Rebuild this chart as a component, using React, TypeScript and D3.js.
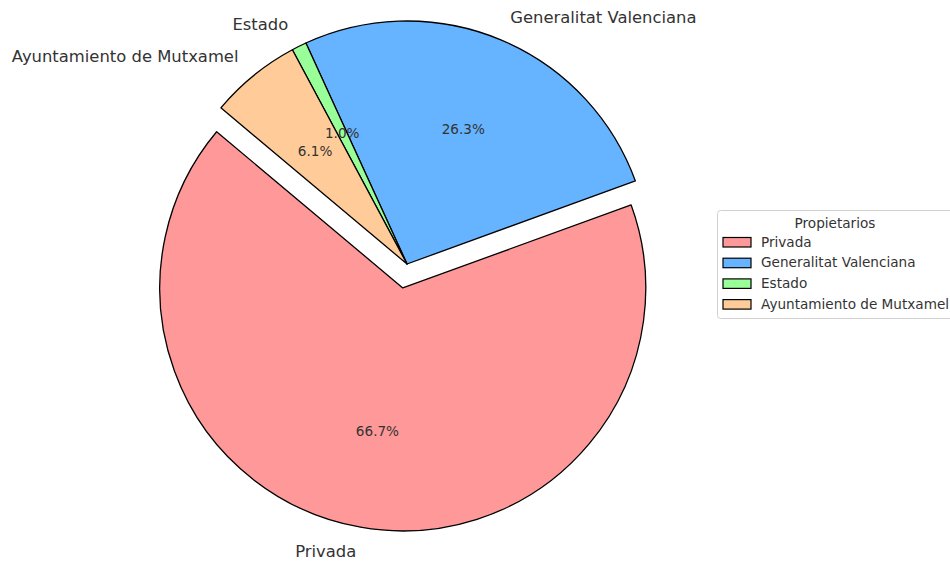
import React from 'react';
import * as d3 from 'd3';

const labels = ['Privada', 'Generalitat Valenciana', 'Estado', 'Ayuntamiento de Mutxamel'];
const values = [66.66, 26.28, 0.99, 6.07];
const colors = ['#ff9999', '#66b3ff', '#99ff99', '#ffcc99'];
const explode = [0.1, 0, 0, 0];
const legendTitle = 'Propietarios';

const width = 950;
const height = 561;
const cx = 407;
const cy = 264;
const radius = 243;
const startDeg = 140;
const textColor = '#333';

export default function App() {
  const toRad = (d: number) => (d * Math.PI) / 180;
  // matplotlib goes counterclockwise from startangle; d3 measures clockwise from 12 o'clock
  const pie = d3
    .pie<number>()
    .sort(null)
    .value((d) => d)
    .startAngle(toRad(90 - startDeg))
    .endAngle(toRad(90 - startDeg - 360));
  const arcs = pie(values);
  const total = d3.sum(values);

  const arc = d3.arc<d3.PieArcDatum<number>>().innerRadius(0).outerRadius(radius);

  const geo = arcs.map((a, i) => {
    const mid = (a.startAngle + a.endAngle) / 2;
    const dx = Math.sin(mid);
    const dy = -Math.cos(mid);
    const ox = cx + dx * radius * explode[i];
    const oy = cy + dy * radius * explode[i];
    return { a, dx, dy, ox, oy };
  });

  return (
    <div style={{ position: 'absolute', left: 0, top: 0 }}>
      <svg width={width} height={height} style={{ display: 'block', fontFamily: 'DejaVu Sans' }}>
        <rect width={width} height={height} fill="white" />
        {geo.map((g, i) => (
          <path
            key={`wedge-${i}`}
            d={arc(g.a) as string}
            transform={`translate(${g.ox},${g.oy})`}
            fill={colors[i]}
            stroke="black"
            strokeWidth={1.3}
            strokeLinejoin="round"
          />
        ))}
        {geo.map((g, i) => (
          <g key={`text-${i}`}>
            <text
              x={g.ox + g.dx * radius * 1.1}
              y={g.oy + g.dy * radius * 1.1}
              dy="0.35em"
              textAnchor={g.dx < 0 ? 'end' : 'start'}
              fontSize={16.4}
              fill={textColor}
            >
              {labels[i]}
            </text>
            <text
              x={g.ox + g.dx * radius * 0.6}
              y={g.oy + g.dy * radius * 0.6}
              dy="0.35em"
              textAnchor="middle"
              fontSize={13.6}
              fill={textColor}
            >
              {`${((g.a.value / total) * 100).toFixed(1)}%`}
            </text>
          </g>
        ))}
        <g transform="translate(717,210)">
          <rect x={0.5} y={0.5} width={250} height={108} rx={3} fill="white" stroke="#d0d0d0" />
          <text x={118} y={13} dy="0.35em" textAnchor="middle" fontSize={13.6} fill={textColor}>
            {legendTitle}
          </text>
          {labels.map((l, i) => (
            <g key={l} transform={`translate(0,${32 + i * 20.7})`}>
              <rect x={6} y={-4.5} width={28} height={9.5} fill={colors[i]} stroke="black" strokeWidth={1.2} />
              <text x={44} y={0} dy="0.35em" fontSize={13.6} fill={textColor}>
                {l}
              </text>
            </g>
          ))}
        </g>
      </svg>
    </div>
  );
}
